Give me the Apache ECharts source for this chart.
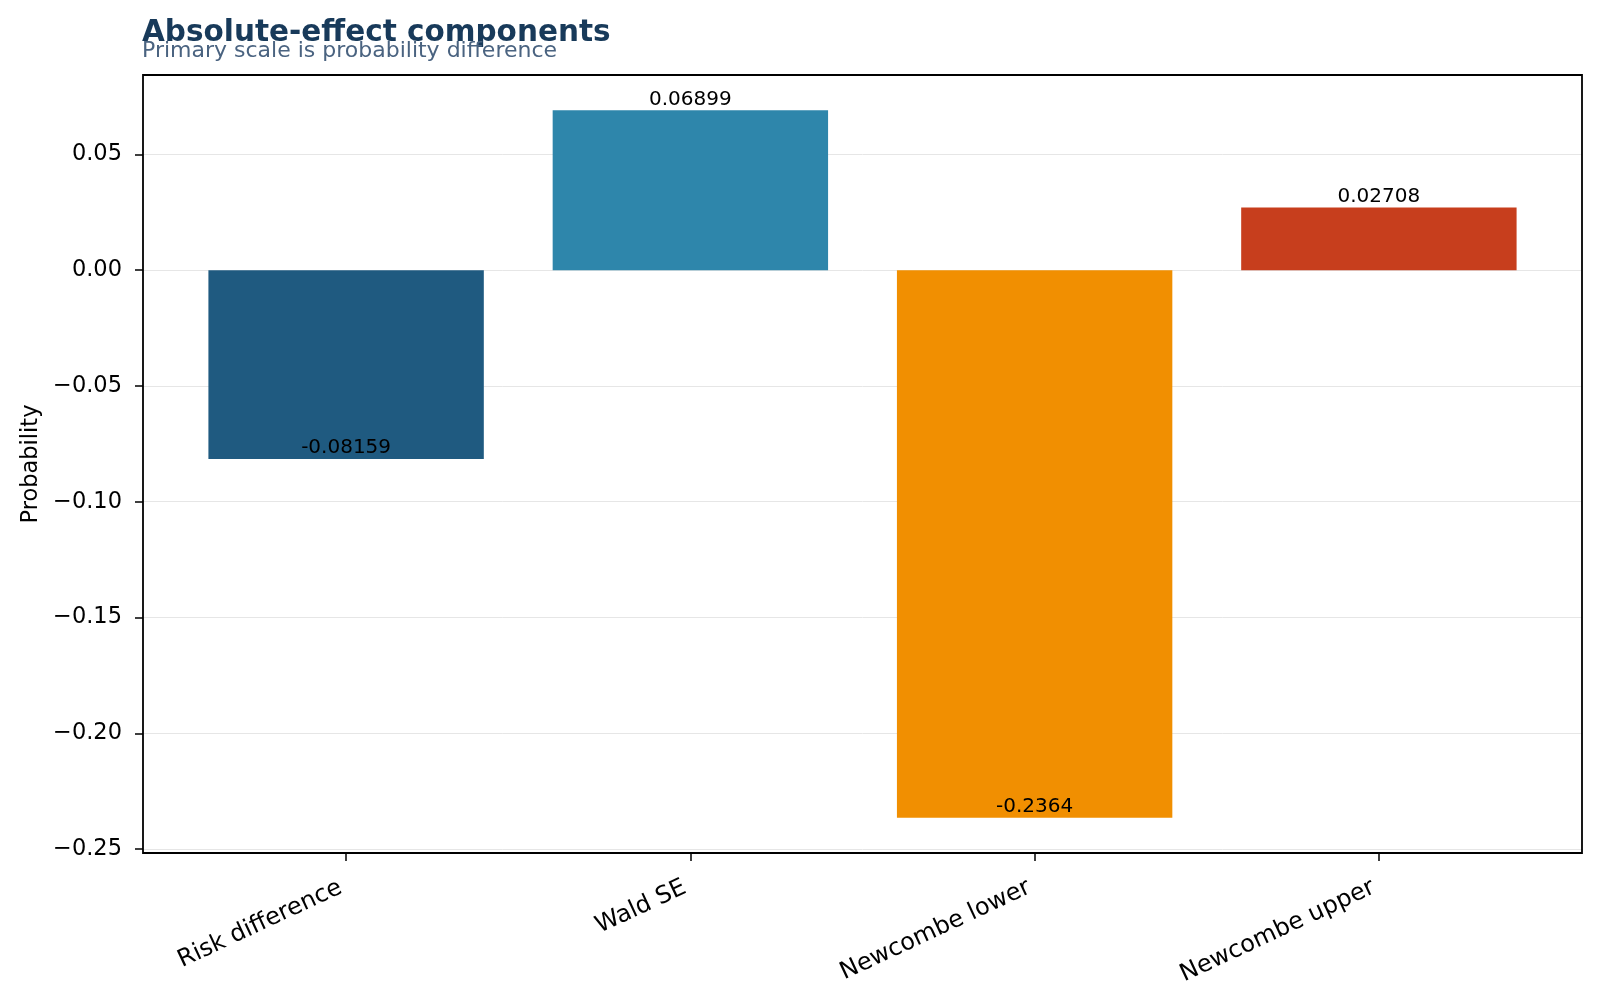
<!DOCTYPE html>
<html>
<head>
<meta charset="utf-8">
<script src="https://cdn.jsdelivr.net/npm/echarts@6/dist/echarts.min.js"></script>
<style>
  html, body { margin: 0; padding: 0; background: #fff; }
  #chart { width: 1600px; height: 1000px; }
</style>
</head>
<body>
<div id="chart"></div>
<script>
// 数据
var categories = ["Risk difference", "Wald SE", "Newcombe lower", "Newcombe upper"];
var values = [-0.08159, 0.06899, -0.2364, 0.02708];
var barColors = ["#1f5a80", "#2e86ab", "#f18f01", "#c73e1d"];

// matplotlib 风格的坐标范围 (5% 边距)
var span = Math.max.apply(null, values) - Math.min.apply(null, values);
var yMin = Math.min.apply(null, values) - 0.05 * span;
var yMax = Math.max.apply(null, values) + 0.05 * span;

// 绘图区 (像素)
var plotLeft = 143, plotTop = 75, plotW = 1439, plotH = 778;
var pxPerUnitY = plotH / (yMax - yMin);
var pxPerCat = plotW / (categories.length - 1 + 0.8 + 0.38); // xlim -0.59 .. 3.59
var barLeft = plotLeft + 0.09 * pxPerCat;

var font = "DejaVu Sans";
var myChart = echarts.init(document.getElementById("chart"), null, { renderer: "canvas" });

var option = {
  backgroundColor: "#fff",
  animation: false,
  title: [
    {
      text: "Absolute-effect components",
      left: plotLeft - 1, top: 18,
      padding: 0,
      textStyle: { fontFamily: font, fontSize: 29.5, fontWeight: "bold", color: "#183a5a" },
    },
    {
      text: "Primary scale is probability difference",
      left: plotLeft - 1, top: 40.5,
      padding: 0,
      textStyle: { fontFamily: font, fontSize: 22, fontWeight: "normal", color: "#4a6380" },
    },
  ],
  grid: [
    // 外框
    { left: plotLeft, top: plotTop, width: plotW, height: plotH, show: true,
      borderColor: "#000", borderWidth: 1.8, backgroundColor: "transparent", z: 5 },
    // 刻度 / 网格线 (-0.25 .. 0.05)
    { left: plotLeft, width: plotW,
      top: plotTop + (yMax - 0.05) * pxPerUnitY,
      height: 0.3 * pxPerUnitY },
    // 柱子
    { left: barLeft, width: categories.length * pxPerCat, top: plotTop, height: plotH },
  ],
  xAxis: [
    { gridIndex: 0, type: "value", show: false },
    { gridIndex: 1, type: "value", show: false },
    {
      gridIndex: 2,
      type: "category",
      data: categories,
      boundaryGap: true,
      axisLine: { show: false, onZero: false },
      axisTick: { show: true, alignWithLabel: true, length: 8, lineStyle: { color: "#000", width: 1.5 } },
      axisLabel: { rotate: 25, margin: 31, padding: [0, 6, 0, 0], fontFamily: font, fontSize: 24, color: "#000", interval: 0 },
      splitLine: { show: false },
    },
  ],
  yAxis: [
    {
      gridIndex: 0,
      type: "value",
      name: "Probability",
      nameLocation: "middle",
      nameGap: 100,
      nameTextStyle: { fontFamily: font, fontSize: 22.5, color: "#000" },
      axisLine: { show: false },
      axisTick: { show: false },
      axisLabel: { show: false },
      splitLine: { show: false },
    },
    {
      gridIndex: 1,
      type: "value",
      min: -0.25,
      max: 0.05,
      interval: 0.05,
      axisLine: { show: false },
      axisTick: { show: true, length: 8, lineStyle: { color: "#000", width: 1.5 } },
      axisLabel: {
        margin: 21,
        fontFamily: font,
        fontSize: 22.5,
        color: "#000",
        formatter: function (v) {
          return (v < -1e-9 ? "\u2212" : "") + Math.abs(v).toFixed(2);
        },
      },
      splitLine: { show: true, lineStyle: { color: "#e6e6e6", width: 1 } },
    },
    { gridIndex: 2, type: "value", min: yMin, max: yMax, show: false, splitLine: { show: false } },
  ],
  series: [
    {
      type: "bar",
      xAxisIndex: 2,
      yAxisIndex: 2,
      barWidth: "80%",
      data: values.map(function (v, i) {
        return {
          value: v,
          itemStyle: { color: barColors[i] },
          label: { position: v >= 0 ? "top" : "insideBottom" },
        };
      }),
      label: {
        show: true,
        distance: 1,
        fontFamily: font,
        fontSize: 20,
        color: "#000",
        formatter: function (p) {
          return Number(p.value).toPrecision(4);
        },
      },
    },
  ],
};

myChart.setOption(option);
</script>
</body>
</html>
